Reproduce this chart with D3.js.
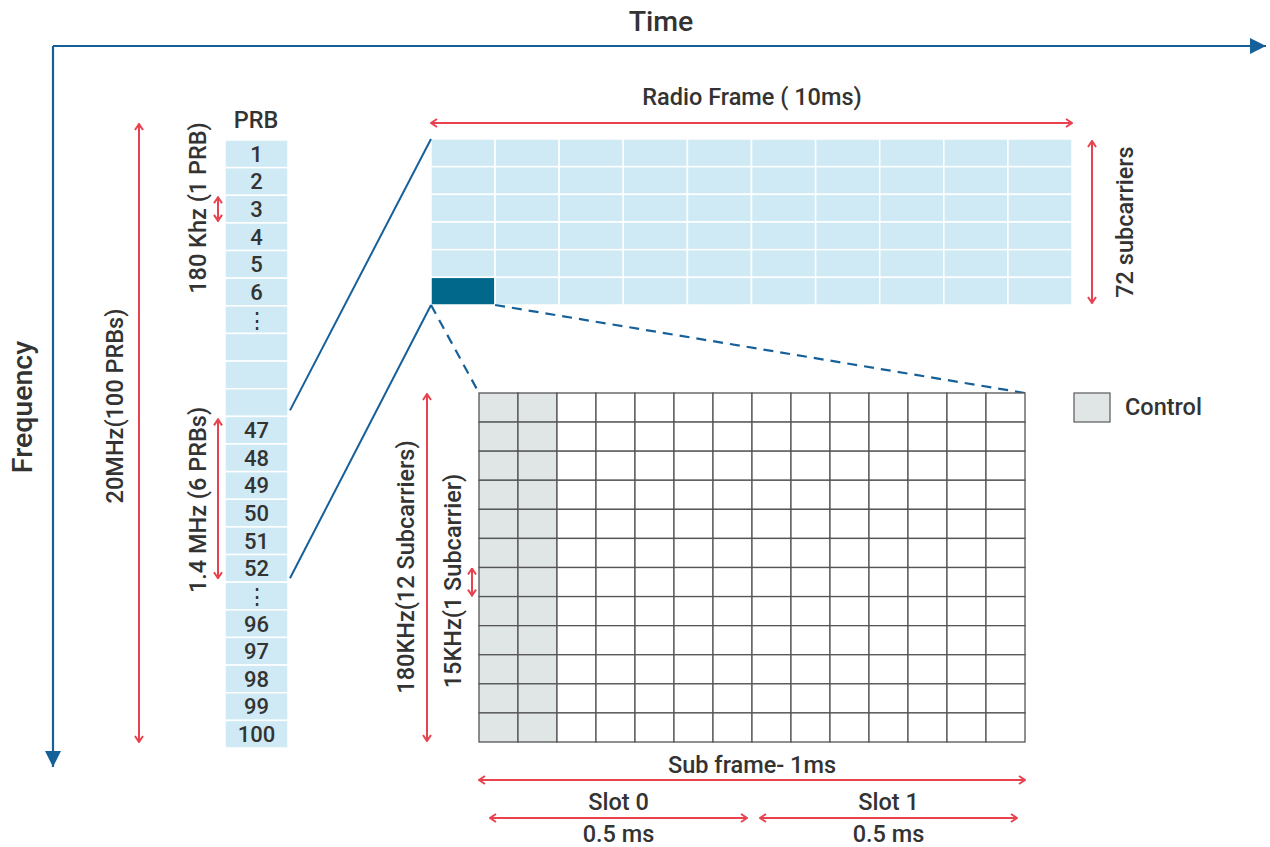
<!DOCTYPE html>
<html><head><meta charset="utf-8">
<script src="https://cdn.jsdelivr.net/npm/d3@7"></script>
<style>
html,body{margin:0;padding:0;background:#fff;}
svg text{font-family:Roboto,"Liberation Sans",sans-serif;font-weight:500;fill:#333;}
</style></head>
<body>
<svg id="c" width="1270" height="847"></svg>
<script>
// ---- data ----
const prbLabels = ["1","2","3","4","5","6","⋮","","","","47","48","49","50","51","52","⋮","96","97","98","99","100"];
const radioFrameCols = d3.range(10);       // 10 subframes
const radioFrameRows = d3.range(6);        // 6 PRBs (72 subcarriers)
const subframeCols = d3.range(14);         // 14 OFDM symbols
const subframeRows = d3.range(12);         // 12 subcarriers
const controlCols = 2;                     // control symbols
const slotLabels = ["Slot 0","Slot 1"];
const slotDurations = ["0.5 ms","0.5 ms"];

const svg = d3.select("#c");
const BLUE = "#16609a", RED = "#e8424f", CELL = "#cfeaf4", DARK = "#02688b", GREY = "#e0e6e6", TXT = "#333";
const FS = 23.5;

const defs = svg.append("defs");
defs.append("marker").attr("id","chev").attr("viewBox","0 0 10 10").attr("refX",9).attr("refY",5)
  .attr("markerWidth",10).attr("markerHeight",10).attr("markerUnits","userSpaceOnUse")
  .attr("orient","auto-start-reverse")
  .append("path").attr("d","M3,1 L9,5 L3,9").attr("fill","none").attr("stroke",RED).attr("stroke-width",2);
defs.append("marker").attr("id","tri").attr("viewBox","0 0 10 10").attr("refX",10).attr("refY",5)
  .attr("markerWidth",16).attr("markerHeight",16).attr("markerUnits","userSpaceOnUse")
  .attr("orient","auto")
  .append("path").attr("d","M0,0 L10,5 L0,10 Z").attr("fill",BLUE);

function redArrow(x1,y1,x2,y2){
  svg.append("line").attr("x1",x1).attr("y1",y1).attr("x2",x2).attr("y2",y2)
    .attr("stroke",RED).attr("stroke-width",2)
    .attr("marker-start","url(#chev)").attr("marker-end","url(#chev)");
}
function text(x,y,t,size,rot){
  const el = svg.append("text").attr("text-anchor","middle").attr("font-size",size).text(t);
  if(rot){ el.attr("transform",`translate(${x},${y}) rotate(-90)`).attr("dy","0.35em"); }
  else { el.attr("x",x).attr("y",y).attr("dy","0.35em"); }
  return el;
}

// ---- axes ----
svg.append("path").attr("d","M53,46 L1266,46").attr("stroke",BLUE).attr("stroke-width",2.2).attr("fill","none").attr("marker-end","url(#tri)");
svg.append("path").attr("d","M53,46 L53,767").attr("stroke",BLUE).attr("stroke-width",2.2).attr("fill","none").attr("marker-end","url(#tri)");
text(661,21,"Time",28.5).attr("font-weight",700);
text(22,407,"Frequency",28.5,true).attr("font-weight",700);

// ---- PRB column ----
const yPrb = d3.scaleBand().domain(d3.range(prbLabels.length)).range([140,748]);
const xPrbL = 225, xPrbR = 288;
text(256,120,"PRB",FS);
const prbG = svg.append("g");
prbG.selectAll("rect").data(prbLabels).join("rect")
  .attr("x",xPrbL).attr("y",(d,i)=>yPrb(i)).attr("width",xPrbR-xPrbL).attr("height",yPrb.bandwidth())
  .attr("fill",CELL).attr("stroke","#fff").attr("stroke-width",1.5);
prbG.selectAll("text").data(prbLabels).join("text")
  .attr("x",(xPrbL+xPrbR)/2).attr("y",(d,i)=>yPrb(i)+yPrb.bandwidth()/2).attr("dy","0.36em")
  .attr("text-anchor","middle").attr("font-size",22).text(d=>d);

// 20MHz arrow
redArrow(139,124,139,742);
text(115,406,"20MHz(100 PRBs)",FS,true);
// 180 kHz
text(198,208,"180 Khz (1 PRB)",FS,true);
redArrow(218,yPrb(2)+2,218,yPrb(2)+yPrb.bandwidth()-2);
// 1.4 MHz
text(198,500,"1.4 MHz (6 PRBs)",FS,true);
redArrow(218,yPrb(10)+3,218,yPrb(15)+yPrb.bandwidth()-4);

// ---- radio frame ----
const xRF = d3.scaleBand().domain(radioFrameCols).range([431,1072]);
const yRF = d3.scaleBand().domain(radioFrameRows).range([139,305]);
const cells = [];
radioFrameRows.forEach(r=>radioFrameCols.forEach(c=>cells.push({r,c})));
svg.append("g").selectAll("rect").data(cells).join("rect")
  .attr("x",d=>xRF(d.c)).attr("y",d=>yRF(d.r)).attr("width",xRF.bandwidth()).attr("height",yRF.bandwidth())
  .attr("fill",d=>(d.r===radioFrameRows.length-1&&d.c===0)?DARK:CELL)
  .attr("stroke","#fff").attr("stroke-width",1.5);

// zoom lines PRB -> radio frame
svg.append("line").attr("x1",xPrbR+2).attr("y1",yPrb(9)+yPrb.bandwidth()-6).attr("x2",xRF(0)).attr("y2",yRF(0)).attr("stroke",BLUE).attr("stroke-width",2);
svg.append("line").attr("x1",xPrbR+2).attr("y1",yPrb(15)+yPrb.bandwidth()-4).attr("x2",xRF(0)).attr("y2",305).attr("stroke",BLUE).attr("stroke-width",2);

redArrow(431,123,1072,123);
text(752,97,"Radio Frame ( 10ms)",FS);
redArrow(1092,141,1092,303);
text(1125,222,"72 subcarriers",FS,true);

// ---- subframe grid ----
const xSF = d3.scaleBand().domain(subframeCols).range([479,1025]);
const ySF = d3.scaleBand().domain(subframeRows).range([393,742]);
const sfCells = [];
subframeRows.forEach(r=>subframeCols.forEach(c=>sfCells.push({r,c})));

// dashed zoom lines
svg.append("line").attr("x1",xRF(0)).attr("y1",305).attr("x2",xSF(0)).attr("y2",393).attr("stroke",BLUE).attr("stroke-width",2.2).attr("stroke-dasharray","10,7");
svg.append("line").attr("x1",xRF(1)).attr("y1",305).attr("x2",1025).attr("y2",393).attr("stroke",BLUE).attr("stroke-width",2.2).attr("stroke-dasharray","10,7");

svg.append("g").selectAll("rect").data(sfCells).join("rect")
  .attr("x",d=>xSF(d.c)).attr("y",d=>ySF(d.r)).attr("width",xSF.bandwidth()).attr("height",ySF.bandwidth())
  .attr("fill",d=>d.c<controlCols?GREY:"#fff").attr("stroke","#555").attr("stroke-width",1.3);

// legend
svg.append("rect").attr("x",1074).attr("y",393).attr("width",36).attr("height",29).attr("fill",GREY).attr("stroke","#666").attr("stroke-width",1.3);
svg.append("text").attr("x",1125).attr("y",407).attr("dy","0.35em").attr("font-size",FS).text("Control");

// left labels of subframe
redArrow(427,394,427,741);
text(406,567,"180KHz(12 Subcarriers)",FS,true);
text(453,581,"15KHz(1 Subcarrier)",FS,true);
redArrow(472,ySF(6)+1,472,ySF(6)+ySF.bandwidth()-1);

// bottom
redArrow(479,780,1025,780);
text(752,765,"Sub frame- 1ms",FS);
const slotX = [[490,747],[760,1017]];
slotX.forEach((s,i)=>{
  redArrow(s[0],818,s[1],818);
  text((s[0]+s[1])/2,801.5,slotLabels[i],FS);
  text((s[0]+s[1])/2,834,slotDurations[i],FS);
});
</script>
</body></html>
